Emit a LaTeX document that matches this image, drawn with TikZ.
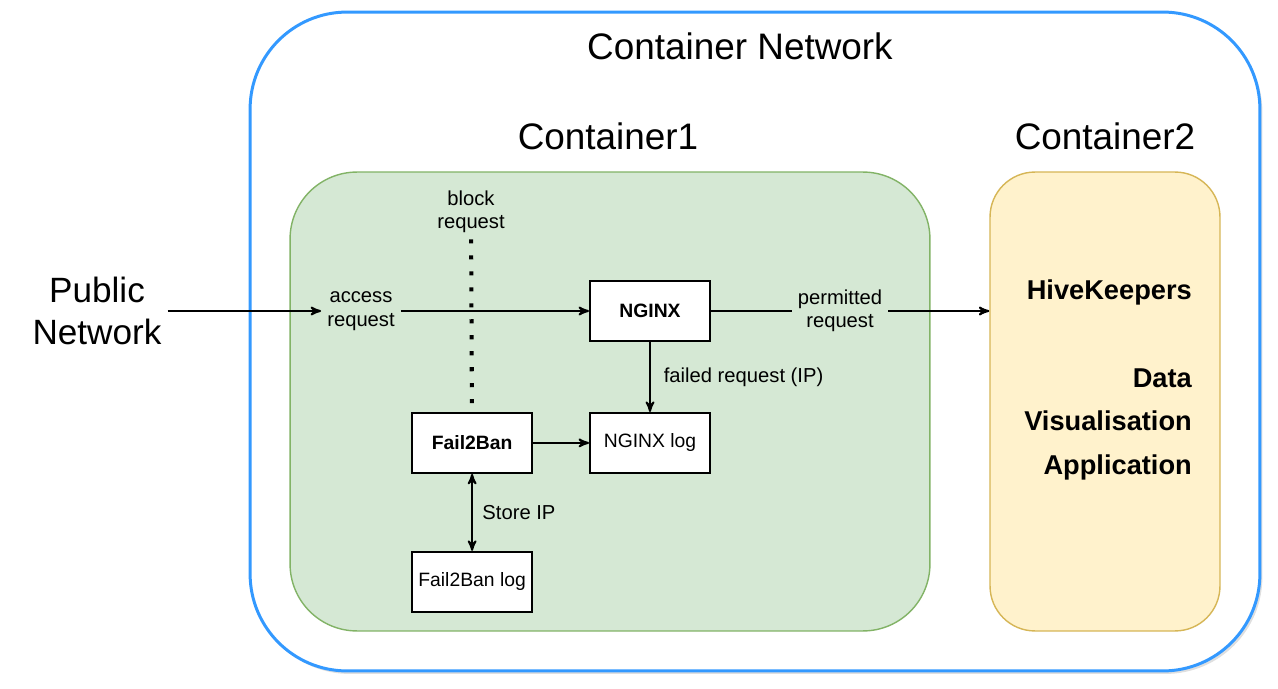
\documentclass[tikz,border=0pt]{standalone}
\usepackage{fontspec}
\setmainfont{Liberation Sans}
\usetikzlibrary{arrows, positioning, shadows}

\definecolor{netblue}{HTML}{3399FF}
\definecolor{cgreen}{HTML}{D5E8D4}
\definecolor{cgreenline}{HTML}{82B366}
\definecolor{cyellow}{HTML}{FFF2CC}
\definecolor{cyellowline}{HTML}{D6B656}

\begin{document}
\begin{tikzpicture}[x=0.02cm, y=-0.02cm, >=stealth', auto,
  box/.style={draw, line width=1.1pt, fill=white, minimum width=2.4cm, minimum height=1.2cm, font=\fontsize{11}{13}\selectfont},
  lbl/.style={align=center, font=\fontsize{11.5}{13.3}\selectfont},
  title/.style={font=\fontsize{21}{25}\selectfont},
  conn/.style={line width=1.1pt}]

\useasboundingbox (0,0) rectangle (1278,689);

% define the containers
  \node[draw=netblue, line width=1.7pt, fill=white, rounded corners=1.94cm,
        minimum width=20.2cm, minimum height=13.18cm,
        drop shadow={shadow xshift=0.05cm, shadow yshift=-0.06cm, opacity=0.25}] (net) at (755,341.5) {};
  \node[draw=cgreenline, fill=cgreen, line width=0.8pt, rounded corners=1.34cm,
        minimum width=12.8cm, minimum height=9.18cm] (c1) at (610,401.5) {};
  \node[draw=cyellowline, fill=cyellow, line width=0.8pt, rounded corners=0.9cm,
        minimum width=4.6cm, minimum height=9.18cm] (c2) at (1105,401.5) {};

  \node[title] (nettitle) at (740,46) {Container Network};
  \node[title] (c1title)  at (608,136) {Container1};
  \node[title] (c2title)  at (1105,136) {Container2};

% define the boxes
  \node[box, font=\fontsize{11}{13}\bfseries] (nginx) at (650,311) {NGINX};
  \node[box] (nginxlog) [below=1.4cm of nginx] {NGINX log};
  \node[box, font=\fontsize{11}{13}\bfseries] (f2b) [left=1.12cm of nginxlog] {Fail2Ban};
  \node[box] (f2blog) [below=1.54cm of f2b] {Fail2Ban log};

% define the labels
  \node[font=\fontsize{20}{24.4}\selectfont, align=center] (pub) at (97,311) {Public\\Network};
  \node[lbl] (acc)  at (361,311) {access\\request};
  \node[lbl] (blk)  at (471,212) {block\\request};
  \node[lbl] (perm) at (840,311) {permitted\\request};
  \node[font=\fontsize{15.5}{24.9}\bfseries, align=right, anchor=east] (app) at (1198,380)
    {HiveKeepers\\[24.9pt]Data\\Visualisation\\Application};

% define the links
  \draw[conn, ->] (pub) -- (acc);
  \draw[conn, ->] (acc) -- (nginx);
  \draw[line width=2.3pt, dash pattern=on 2.3pt off 6.8pt] (blk) -- (f2b);
  \draw[conn] (nginx) -- (perm);
  \draw[conn, ->] (perm) -- (perm -| c2.west);
  \path[conn, ->] (nginx) edge node[lbl, xshift=4pt] {failed request (IP)} (nginxlog)
        (f2b)   edge (nginxlog);
  \draw[conn, <->] (f2b) -- node[lbl, xshift=2pt] {Store IP} (f2blog);

\end{tikzpicture}
\end{document}
